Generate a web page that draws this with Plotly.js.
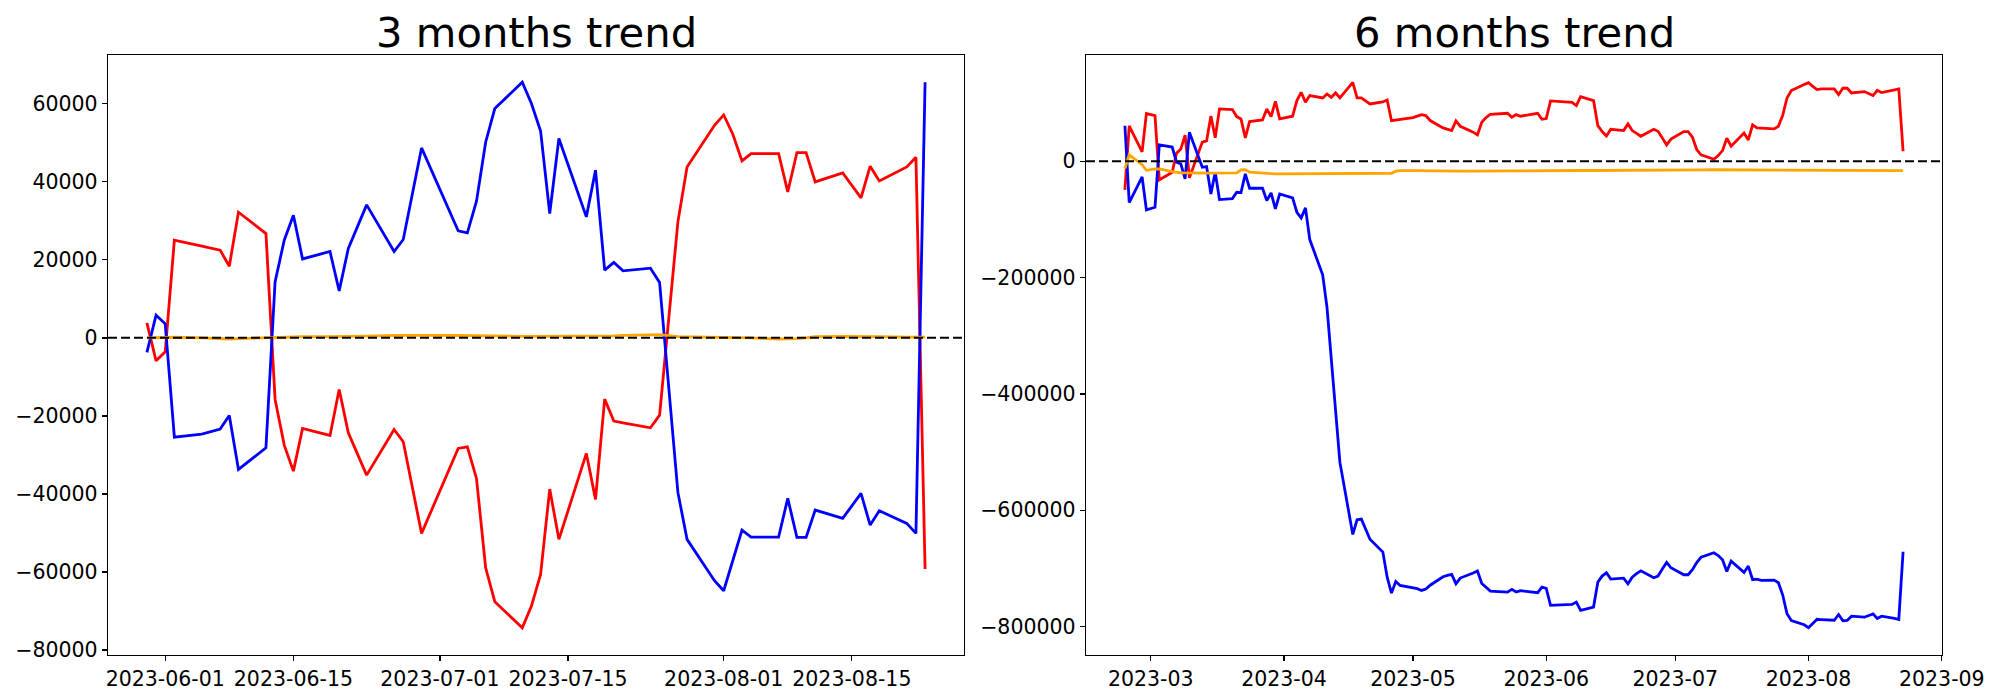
<!DOCTYPE html>
<html><head><meta charset="utf-8">
<script src="https://cdn.plot.ly/plotly-3.0.1.min.js"></script>
<style>html,body{margin:0;padding:0;background:#fff}#chart{width:2000px;height:700px}</style>
</head><body><div id="chart"></div>
<script>
// ---------- 3 months trend ----------
const dates3m = [
  '2023-05-30','2023-05-31',
  '2023-06-01','2023-06-02','2023-06-05','2023-06-07','2023-06-08','2023-06-09','2023-06-12','2023-06-13','2023-06-14','2023-06-15',
  '2023-06-16','2023-06-19','2023-06-20','2023-06-21','2023-06-23','2023-06-26','2023-06-27','2023-06-28','2023-06-29',
  '2023-07-03','2023-07-04','2023-07-05','2023-07-06','2023-07-07','2023-07-10','2023-07-11','2023-07-12','2023-07-13','2023-07-14',
  '2023-07-17','2023-07-18','2023-07-19','2023-07-20','2023-07-21','2023-07-24','2023-07-25','2023-07-27','2023-07-28','2023-07-31',
  '2023-08-01','2023-08-02','2023-08-03','2023-08-04','2023-08-07','2023-08-08','2023-08-09','2023-08-10','2023-08-11',
  '2023-08-14','2023-08-16','2023-08-17','2023-08-18','2023-08-21','2023-08-22','2023-08-23'
];
const red3m = [
  3840, -5890,
  -3590, 25020, 23500, 22460, 18360, 32190, 26730, -15780, -27480, -34140,
  -23210, -25000, -13220, -24330, -35170, -23460, -26630, -38320, -50100,
  -28330, -27910, -36010, -58900, -67610, -74270, -68710, -60600, -38750, -51630,
  -29610, -41390, -15700, -21330, -21800, -23050, -19800, 29710, 43790, 54470,
  57110, 52170, 45330, 47220, 47220, 37390, 47480, 47480, 39950,
  42260, 35850, 43970, 40210, 43790, 46280, -59240
];
const blue3m = [
  -3740, 5810,
  3590, -25430, -24660, -23380, -19880, -33700, -28170, 14340, 25020, 31420,
  20230, 22120, 12040, 22890, 34060, 22120, 25200, 37390, 48660,
  27400, 26890, 35010, 50120, 58750, 65480, 60030, 53010, 31860, 51070,
  30990, 42950, 17340, 19310, 17160, 17850, 14190, -39600, -51630, -62230,
  -64790, -56930, -49250, -51040, -51040, -41130, -51120, -51120, -44130,
  -46250, -39850, -47970, -44310, -47540, -50100, 65480
];
const orange3m = [
  0, 100,
  200, 150, 0, -300, -300, -200, 0, 100, 200, 300,
  300, 300, 300, 350, 450, 600, 650, 650, 650,
  600, 550, 500, 450, 400, 400, 400, 400, 350, 350,
  350, 400, 450, 500, 650, 850, 850, 300, 250, 200,
  200, 150, 100, 0, -300, -300, -200, 0, 300,
  400, 400, 350, 300, 200, 200, 200
];
const ticks3m = ['2023-06-01','2023-06-15','2023-07-01','2023-07-15','2023-08-01','2023-08-15'];

// ---------- 6 months trend ----------
const dates6m = [
  '2023-02-23','2023-02-24','2023-02-27','2023-02-28',
  '2023-03-02','2023-03-03','2023-03-06','2023-03-07','2023-03-08','2023-03-09','2023-03-10','2023-03-13','2023-03-14','2023-03-15','2023-03-16',
  '2023-03-17','2023-03-20','2023-03-21','2023-03-22','2023-03-23','2023-03-24','2023-03-27','2023-03-28','2023-03-29','2023-03-30','2023-03-31',
  '2023-04-03','2023-04-04','2023-04-05','2023-04-06','2023-04-07','2023-04-10','2023-04-11','2023-04-12','2023-04-13','2023-04-14',
  '2023-04-17','2023-04-18','2023-04-19','2023-04-20','2023-04-21','2023-04-24','2023-04-25','2023-04-26','2023-04-27','2023-04-28',
  '2023-05-01','2023-05-02','2023-05-03','2023-05-04','2023-05-05','2023-05-08','2023-05-09','2023-05-10','2023-05-11','2023-05-12','2023-05-15',
  '2023-05-16','2023-05-17','2023-05-18','2023-05-19','2023-05-22','2023-05-23','2023-05-24','2023-05-25','2023-05-26','2023-05-30','2023-05-31',
  '2023-06-01','2023-06-02','2023-06-05','2023-06-06','2023-06-07','2023-06-08','2023-06-09','2023-06-12','2023-06-13','2023-06-14','2023-06-15',
  '2023-06-16','2023-06-19','2023-06-20','2023-06-21','2023-06-22','2023-06-23','2023-06-26','2023-06-27','2023-06-28','2023-06-29','2023-06-30',
  '2023-07-03','2023-07-04','2023-07-05','2023-07-06','2023-07-07','2023-07-10','2023-07-11','2023-07-12','2023-07-13','2023-07-14','2023-07-17',
  '2023-07-18','2023-07-19','2023-07-20','2023-07-21','2023-07-24','2023-07-25','2023-07-26','2023-07-27','2023-07-28','2023-07-31',
  '2023-08-01','2023-08-02','2023-08-03','2023-08-04','2023-08-07','2023-08-08','2023-08-09','2023-08-10','2023-08-11',
  '2023-08-14','2023-08-15','2023-08-16','2023-08-17','2023-08-18','2023-08-21','2023-08-22','2023-08-23'
];
const blue6m = [
  61000, -71000, -27000, -83600,
  -79100, 28100, 24500, -1700, -4500, -30300, 49900, -10400, -9200, -56200, -18900,
  -65900, -64200, -53300, -53900, -21800, -46400, -46400, -67600, -54400, -81900, -56200,
  -63000, -87700, -97400, -80200, -134700, -195400, -251000, -338000, -434300, -517400,
  -641700, -616500, -615400, -633100, -650000, -672100, -715100, -742600, -722500, -729400,
  -733000, -735000, -738000, -735700, -729000, -714500, -712000, -710400, -726400, -716700, -708000,
  -704500, -726000, -733000, -739100, -740500, -741000, -736200, -740700, -738400, -741900, -732200,
  -734500, -763700, -763200, -762700, -762000, -758000, -772300, -766600, -723600, -713300, -707600,
  -718500, -716800, -726500, -715100, -709000, -704200, -716200, -713300, -701000, -689800, -699000,
  -711000, -711000, -702400, -690000, -681000, -673200, -678000, -685200, -705300, -687500, -707000,
  -696100, -719600, -718500, -720700, -720200, -724800, -745900, -778000, -789600, -797000,
  -802100, -795000, -787500, -788000, -789200, -779400, -790300, -789700, -782300,
  -784000, -781000, -778300, -786300, -782300, -786000, -788000, -671500
];
const red6m = [
  -49300, 60800, 16000, 82000,
  78500, -32000, -19000, 14000, 21000, 45000, -28600, 33000, 35000, 77700, 40400,
  90000, 88800, 76800, 72800, 40100, 68200, 71100, 90000, 76800, 103100, 72800,
  77400, 104300, 118600, 101400, 112900, 108900, 115700, 110000, 117500, 108900,
  135800, 108900, 108900, 104000, 98600, 102000, 105400, 69900, 71000, 72200,
  75000, 77500, 80200, 78500, 70000, 57300, 55000, 52700, 69300, 60200, 50000,
  45300, 67000, 75000, 80800, 81500, 82500, 75600, 80200, 77400, 82500, 72200,
  73300, 103700, 103000, 102000, 101400, 95700, 111200, 104300, 61300, 51000, 43500,
  55000, 52700, 64200, 52700, 48000, 43000, 55000, 51600, 40000, 28100, 38000,
  51000, 51000, 41300, 20100, 10900, 3400, 9700, 18300, 39500, 25800, 48700,
  36700, 62500, 57300, 56700, 55600, 60200, 79100, 108900, 121500, 131800,
  135200, 128900, 123200, 124300, 124300, 114600, 125500, 125500, 117500,
  119800, 116900, 112900, 122000, 118000, 122600, 124300, 17200
];
const orange6m = [
  -12500, 10900, -6000, -15500,
  -13200, -13300, -18000, -19500, -20000, -20000, -20300, -20300, -20300, -20300, -20300,
  -20300, -20300, -20000, -15000, -14300, -18900, -21000, -21500, -21800, -21800, -21800,
  -21800, -21800, -21800, -21800, -21800, -21800, -21800, -21800, -21800, -21800,
  -21800, -21700, -21700, -21600, -21600, -21500, -21000, -20600, -17000, -16000,
  -16000, -16200, -16300, -16500, -16600, -16800, -17000, -17000, -17000, -17000, -17000,
  -16800, -16800, -16700, -16700, -16600, -16500, -16500, -16400, -16400, -16300, -16200,
  -16200, -16100, -16000, -16000, -16000, -16000, -15900, -15900, -15900, -15800, -15800,
  -15800, -15800, -15700, -15700, -15600, -15600, -15500, -15500, -15400, -15300, -15200,
  -15100, -15000, -14900, -14800, -14700, -14600, -14600, -14500, -14500, -14500, -14500,
  -14500, -14600, -14700, -14800, -14900, -15000, -15100, -15200, -15300, -15400,
  -15500, -15500, -15600, -15600, -15700, -15700, -15800, -15800, -15800,
  -15900, -15900, -15900, -16000, -16000, -16000, -16000, -16000
];

const titles = ['3 months trend', '6 months trend'];

// ---------- helpers ----------
function padNum(arrs, f) {
  const all = [].concat(...arrs);
  const mn = Math.min(...all), mx = Math.max(...all), s = mx - mn;
  return [mn - f * s, mx + f * s];
}
function padDate(dates, f) {
  const ms = dates.map(d => Date.parse(d + 'T00:00:00Z'));
  const mn = Math.min(...ms), mx = Math.max(...ms), s = mx - mn;
  const fmt = v => new Date(v).toISOString().replace('T', ' ').replace('Z', '');
  return [fmt(mn - f * s), fmt(mx + f * s)];
}

const FONT = 'DejaVu Sans, sans-serif';
const tickFont = {family: FONT, size: 20.5, color: '#000'};

function line(x, y, color, xa, ya) {
  return {x: x, y: y, type: 'scatter', mode: 'lines', xaxis: xa, yaxis: ya,
          line: {color: color, width: 2.8}, showlegend: false, hoverinfo: 'skip'};
}

const traces = [
  line(dates3m, red3m, '#ff0000', 'x', 'y'),
  line(dates3m, blue3m, '#0000ff', 'x', 'y'),
  line(dates3m, orange3m, '#ffa500', 'x', 'y'),
  line(dates6m, red6m, '#ff0000', 'x2', 'y2'),
  line(dates6m, blue6m, '#0000ff', 'x2', 'y2'),
  line(dates6m, orange6m, '#ffa500', 'x2', 'y2')
];

const axBase = {
  showline: true, linecolor: '#000', linewidth: 1.3, mirror: true,
  showgrid: false, zeroline: false, ticks: 'outside', ticklen: 5, tickwidth: 1.3,
  tickcolor: '#000', tickfont: tickFont, automargin: false, fixedrange: true
};

const yDom = [1 - 655 / 700, 1 - 55 / 700];
const layout = {
  width: 2000, height: 700,
  margin: {l: 0, r: 0, t: 0, b: 0},
  paper_bgcolor: '#fff', plot_bgcolor: '#fff',
  showlegend: false,
  xaxis: Object.assign({}, axBase, {
    type: 'date', domain: [108 / 2000, 964 / 2000], anchor: 'y',
    range: padDate(dates3m, 0.05), tickmode: 'array', tickvals: ticks3m, tickformat: '%Y-%m-%d'
  }),
  yaxis: Object.assign({}, axBase, {
    domain: yDom, anchor: 'x', range: padNum([red3m, blue3m, orange3m], 0.05),
    dtick: 20000, tick0: 0, tickformat: 'd'
  }),
  xaxis2: Object.assign({}, axBase, {
    type: 'date', domain: [1086 / 2000, 1942 / 2000], anchor: 'y2',
    range: padDate(dates6m, 0.05), dtick: 'M1', tick0: '2023-01-01', tickformat: '%Y-%m'
  }),
  yaxis2: Object.assign({}, axBase, {
    domain: yDom, anchor: 'x2', range: padNum([red6m, blue6m, orange6m], 0.05),
    dtick: 200000, tick0: 0, tickformat: 'd'
  }),
  shapes: [
    {type: 'line', xref: 'x domain', yref: 'y', x0: 0, x1: 1, y0: 0, y1: 0,
     line: {color: '#000', width: 2, dash: '9px,4px'}, layer: 'above'},
    {type: 'line', xref: 'x2 domain', yref: 'y2', x0: 0, x1: 1, y0: 0, y1: 0,
     line: {color: '#000', width: 2, dash: '9px,4px'}, layer: 'above'}
  ],
  annotations: [
    {text: titles[0], xref: 'paper', yref: 'paper', x: 536 / 2000, y: 1 - 59 / 700,
     xanchor: 'center', yanchor: 'bottom', showarrow: false,
     font: {family: FONT, size: 41.7, color: '#000'}},
    {text: titles[1], xref: 'paper', yref: 'paper', x: 1514 / 2000, y: 1 - 59 / 700,
     xanchor: 'center', yanchor: 'bottom', showarrow: false,
     font: {family: FONT, size: 41.7, color: '#000'}}
  ]
};

Plotly.newPlot('chart', traces, layout, {staticPlot: true, displayModeBar: false});
</script></body></html>
